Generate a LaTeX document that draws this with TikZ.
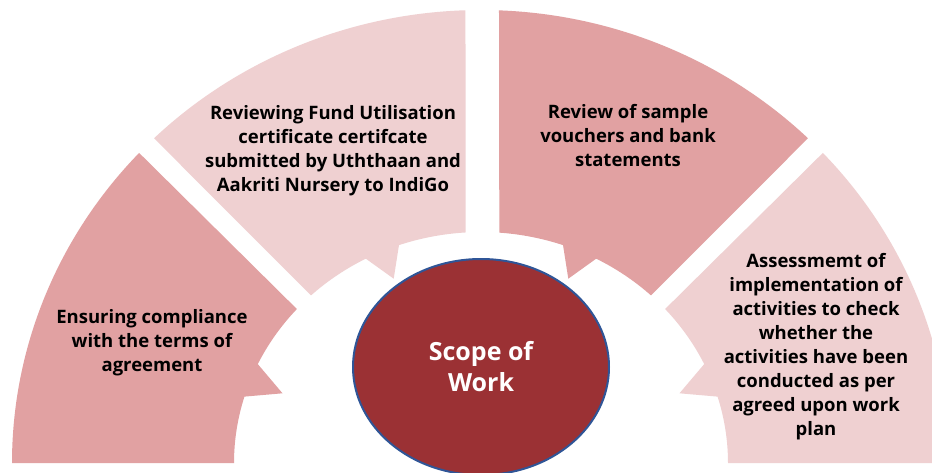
\documentclass[tikz,border=0pt]{standalone}
\usepackage{fontspec}
\setmainfont{Open Sans}
\usetikzlibrary{shapes.geometric}
\definecolor{segdark}{RGB}{225,161,162}
\definecolor{seglight}{RGB}{239,208,209}
\definecolor{corefill}{RGB}{155,49,52}
\definecolor{coreline}{RGB}{47,85,151}
\tikzset{
  segtext/.style={align=center, text=black, inner sep=0pt, font=\fontsize{18.5}{24}\selectfont\bfseries},
  corenode/.style={ellipse, fill=corefill, draw=coreline, line width=2pt, minimum width=256pt, minimum height=216pt, inner sep=0pt, align=center, text=white, font=\fontsize{25}{31}\selectfont\bfseries}
}
\begin{document}
\begin{tikzpicture}[x=1pt,y=1pt]
\clip (0,0) rectangle (932,472);
\fill[white] (0,0) rectangle (932,472);
\begin{scope}[shift={(481,9)}]
% left sector
\fill[segdark] (180:469pt and 453pt) arc[start angle=180, end angle=136.8, x radius=469pt, y radius=453pt]
  -- (138.2:247pt and 231pt) arc[start angle=138.2, end angle=154.65, x radius=247pt, y radius=231pt]
  -- (-198.5,69.7) -- (163.3:247pt and 231pt) arc[start angle=163.3, end angle=180, x radius=247pt, y radius=231pt] -- cycle;
% top-left sector
\fill[seglight] (134.2:469pt and 453pt) arc[start angle=134.2, end angle=91.9, x radius=469pt, y radius=453pt]
  -- (93.55:247pt and 231pt) arc[start angle=93.55, end angle=109.4, x radius=247pt, y radius=231pt]
  -- (-87.3,184.3) -- (117.8:247pt and 231pt) arc[start angle=117.8, end angle=133.5, x radius=247pt, y radius=231pt] -- cycle;
% top-right sector
\fill[segdark] (87.8:469pt and 453pt) arc[start angle=87.8, end angle=45.8, x radius=469pt, y radius=453pt]
  -- (46.5:247pt and 231pt) arc[start angle=46.5, end angle=62.2, x radius=247pt, y radius=231pt]
  -- (87.3,184.3) -- (70.6:247pt and 231pt) arc[start angle=70.6, end angle=85.75, x radius=247pt, y radius=231pt] -- cycle;
% right sector
\fill[seglight] (0:469pt and 453pt) arc[start angle=0, end angle=43.2, x radius=469pt, y radius=453pt]
  -- (41.8:247pt and 231pt) arc[start angle=41.8, end angle=25.35, x radius=247pt, y radius=231pt]
  -- (198.5,69.7) -- (16.7:247pt and 231pt) arc[start angle=16.7, end angle=0, x radius=247pt, y radius=231pt] -- cycle;
\end{scope}
\node[segtext] (compliance) at (152,129) {Ensuring compliance\\with the terms of\\agreement};
\node[segtext] (fund) at (333,321.5) {Reviewing Fund Utilisation\\certificate certifcate\\submitted by Uththaan and\\Aakriti Nursery to IndiGo};
\node[segtext] (vouchers) at (628,336.5) {Review of sample\\vouchers and bank\\statements};
\node[segtext] (assess) at (816,125.5) {Assessmemt of\\implementation of\\activities to check\\whether the\\activities have been\\conducted as per\\agreed upon work\\plan};
\node[corenode] (scope) at (481,105) {Scope of\\Work};
\end{tikzpicture}
\end{document}
